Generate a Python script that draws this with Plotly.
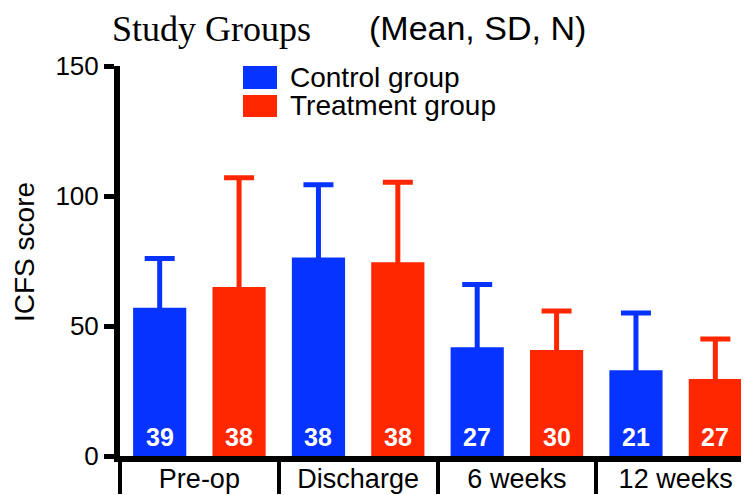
import plotly.graph_objects as go

categories = ["Pre-op", "Discharge", "6 weeks", "12 weeks"]
control_mean = [57, 76.3, 41.8, 33.0]
control_sd = [19, 28, 24.2, 22]
control_n = [39, 38, 27, 21]
treat_mean = [65, 74.5, 40.8, 29.6]
treat_sd = [42, 30.8, 15, 15.4]
treat_n = [38, 38, 30, 27]
y_ticks = [0, 50, 100, 150]

BLUE = "#0633FF"
RED = "#FF2700"

# the page body adds an 8px offset; work in window pixels and subtract it
OFF = 8
WIN_W, WIN_H = 749, 495
FIG_W, FIG_H = WIN_W - OFF, WIN_H - OFF
L, T, W, H = 120 - OFF, 66 - OFF, 629, 390   # plot area in figure px

def px_x(wx):
    return (wx - OFF - L) / W

def px_y(wy):
    return (T + H - (wy - OFF)) / H

fig = go.Figure()
fig.add_trace(go.Bar(
    x=categories, y=control_mean, name="Control group",
    marker=dict(color=BLUE, line=dict(width=0)),
    error_y=dict(type="data", array=control_sd, arrayminus=control_mean, symmetric=False,
                 color=BLUE, thickness=5, width=15),
    showlegend=False,
))
fig.add_trace(go.Bar(
    x=categories, y=treat_mean, name="Treatment group",
    marker=dict(color=RED, line=dict(width=0)),
    error_y=dict(type="data", array=treat_sd, arrayminus=treat_mean, symmetric=False,
                 color=RED, thickness=5, width=15),
    showlegend=False,
))

cat_px = W / 3.962
annotations = []
for i, cat in enumerate(categories):
    for n, shift in ((control_n[i], -cat_px / 4), (treat_n[i], cat_px / 4)):
        annotations.append(dict(
            x=cat, y=0, xref="x", yref="y", text=f"<b>{n}</b>", showarrow=False,
            xshift=shift, yanchor="bottom", yshift=3,
            font=dict(family="Liberation Sans, Arial", size=25, color="white"),
        ))

# title (box top placed at the figure top so nothing is clipped)
fig_top = px_y(OFF)
annotations.append(dict(
    x=px_x(111), y=fig_top, xref="paper", yref="paper", text="Study Groups",
    showarrow=False, xanchor="left", yanchor="top", borderpad=0,
    font=dict(family="Liberation Serif, Times New Roman", size=36, color="black"),
))
annotations.append(dict(
    x=px_x(368), y=fig_top, xref="paper", yref="paper", text="(Mean, SD, N)",
    showarrow=False, xanchor="left", yanchor="top", borderpad=0,
    font=dict(family="Liberation Sans, Arial", size=34, color="black"),
))
# y title
annotations.append(dict(
    x=px_x(24), y=px_y(252), xref="paper", yref="paper", text="ICFS score",
    showarrow=False, textangle=-90, xanchor="center", yanchor="middle",
    font=dict(family="Liberation Sans, Arial", size=28, color="black"),
))
# legend
legend_items = [("Control group", BLUE, 66, 89), ("Treatment group", RED, 95, 117)]
shapes = []
for label, col, y0, y1 in legend_items:
    shapes.append(dict(type="rect", xref="paper", yref="paper",
                       x0=px_x(243), x1=px_x(277), y0=px_y(y1), y1=px_y(y0),
                       fillcolor=col, line=dict(width=0)))
    annotations.append(dict(
        x=px_x(288), y=px_y((y0 + y1) / 2), xref="paper", yref="paper", text=label,
        showarrow=False, xanchor="left", yanchor="middle",
        font=dict(family="Liberation Sans, Arial", size=28, color="black"),
    ))

fig.update_layout(
    width=FIG_W, height=FIG_H,
    margin=dict(l=L, r=FIG_W - L - W, t=T, b=FIG_H - T - H, pad=0),
    paper_bgcolor="white", plot_bgcolor="white",
    barmode="group", bargap=0, bargroupgap=0.33,
    annotations=annotations, shapes=shapes,
    font=dict(family="Liberation Sans, Arial", color="black"),
)
fig.update_xaxes(
    range=[-0.5, 3.462], showgrid=False, zeroline=False, automargin=False,
    showline=True, linecolor="black", linewidth=6,
    ticks="outside", tickson="boundaries", ticklen=32, tickwidth=4, tickcolor="black",
    ticklabelstandoff=-6,
    tickfont=dict(family="Liberation Sans, Arial", size=27, color="black"),
)
fig.update_yaxes(
    range=[0, 150], tickvals=y_ticks, showgrid=False, zeroline=False, automargin=False,
    showline=True, linecolor="black", linewidth=6,
    ticks="outside", ticklen=10, tickwidth=5, tickcolor="black",
    tickfont=dict(family="Liberation Sans, Arial", size=26, color="black"),
)

fig.write_html("out.html")
